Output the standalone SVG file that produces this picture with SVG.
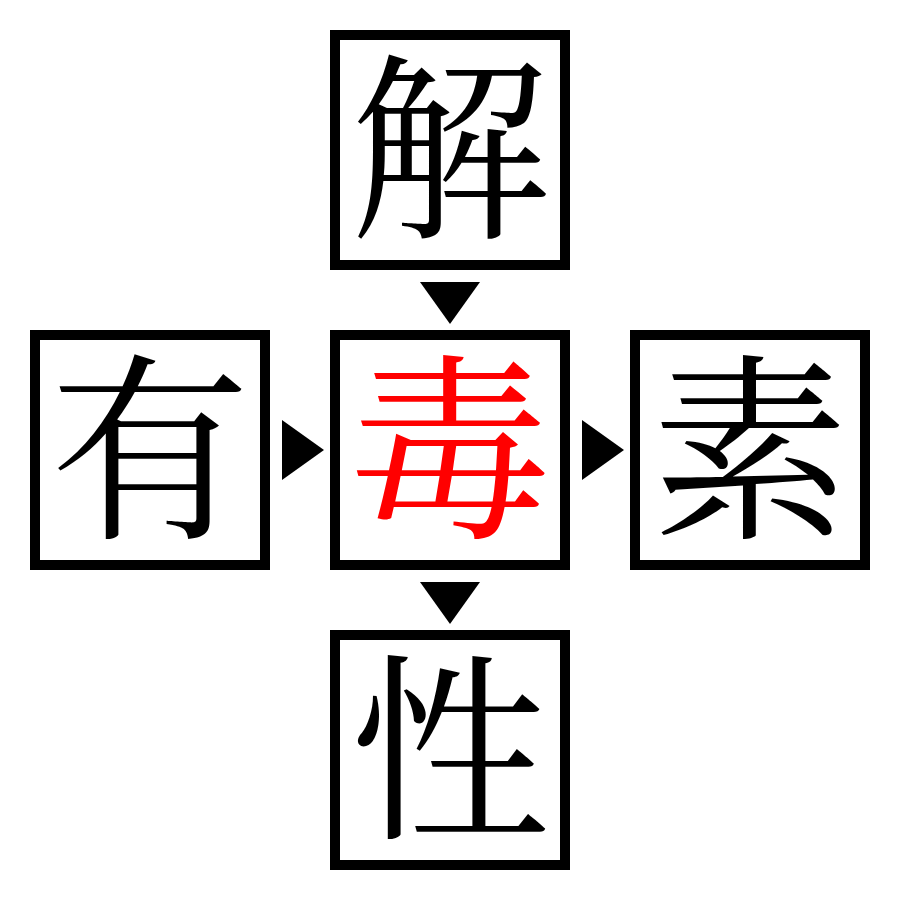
<svg xmlns="http://www.w3.org/2000/svg" width="900" height="900" viewBox="0 0 900 900">
<style>
.box{fill:#fff;stroke:#000;stroke-width:10}
.ch{font-family:"Noto Serif CJK JP","Noto Sans CJK JP",serif;font-size:200px;text-anchor:middle;fill:#000}
.red{fill:#ff0000}
.arr{fill:#000}
</style>
<rect x="0" y="0" width="900" height="900" fill="#fff"/>
<g id="node-top"><rect class="box" x="335" y="35" width="230" height="230"/><text class="ch" x="450" y="223">解</text></g>
<g id="node-left"><rect class="box" x="35" y="335" width="230" height="230"/><text class="ch" x="150" y="523">有</text></g>
<g id="node-center"><rect class="box" x="335" y="335" width="230" height="230"/><text class="ch red" x="450" y="523">毒</text></g>
<g id="node-right"><rect class="box" x="635" y="335" width="230" height="230"/><text class="ch" x="750" y="523">素</text></g>
<g id="node-bottom"><rect class="box" x="335" y="635" width="230" height="230"/><text class="ch" x="450" y="823">性</text></g>
<g id="connectors">
<polygon class="arr" points="420,282 480,282 450,324"/>
<polygon class="arr" points="282,420 282,480 324,450"/>
<polygon class="arr" points="582,420 582,480 624,450"/>
<polygon class="arr" points="420,582 480,582 450,624"/>
</g>
</svg>
